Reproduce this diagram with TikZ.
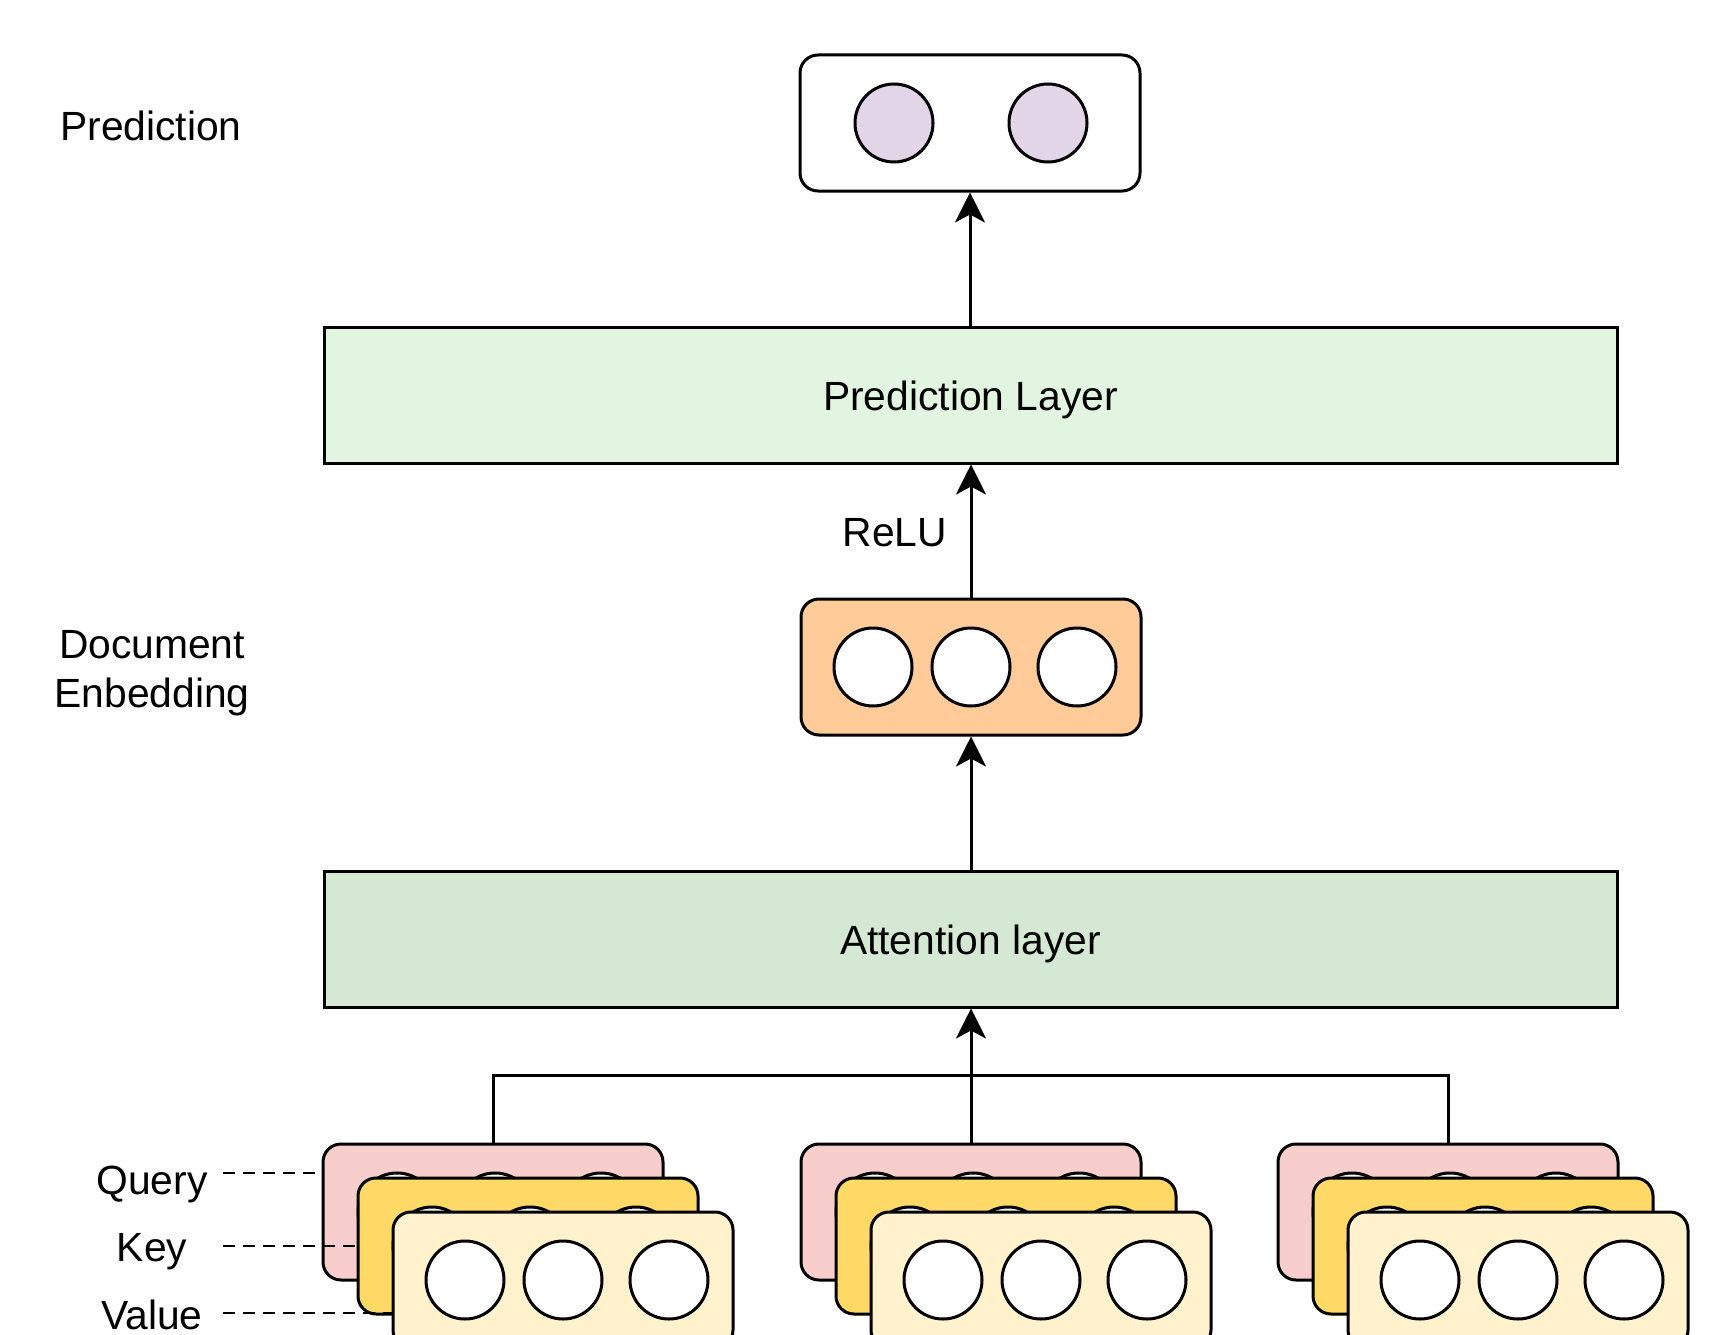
\documentclass[tikz,border=0pt]{standalone}
\usepackage{fontspec}
\setmainfont{Liberation Sans}
\usetikzlibrary{arrows.meta}
\definecolor{predcell}{HTML}{E1D5E7}
\definecolor{predlayer}{HTML}{E1F5E1}
\definecolor{attlayer}{HTML}{D5E8D4}
\definecolor{embfill}{HTML}{FFCC99}
\definecolor{qfill}{HTML}{F8CECC}
\definecolor{kfill}{HTML}{FFD966}
\definecolor{vfill}{HTML}{FFF2CC}
\begin{document}
\begin{tikzpicture}[x=1pt,y=-1pt,line width=3pt,
  rbox/.style={draw,rounded corners=18pt,minimum width=340pt,minimum height=136pt,inner sep=0pt},
  layerbox/.style={draw,rectangle,minimum width=1293pt,minimum height=136pt,inner sep=0pt},
  cell/.style={draw,circle,fill=white,minimum size=78pt,inner sep=0pt},
  lbl/.style={font=\fontsize{40.8}{49}\selectfont,align=center,inner sep=0pt},
  arr/.style={-{Stealth[length=30pt,width=30pt,inset=8pt]}},
  dashline/.style={line width=2.5pt,dash pattern=on 12pt off 8pt}]
\useasboundingbox (0,0) rectangle (1727,1335);
\clip (0,0) rectangle (1727,1335);

% left labels
\node[lbl] (lpred) at (151,126) {Prediction};
\node[lbl] (ldoc) at (152,673.5) {Document\\Enbedding};

% prediction output
\node[rbox,fill=white] (top) at (970,123) {};
\node[cell,fill=predcell] (pc1) at (894,123) {};
\node[cell,fill=predcell] (pc2) at (1048,123) {};

% prediction layer
\node[layerbox,fill=predlayer] (pl) at (970.5,395) {};
\node[lbl] (plt) at ([yshift=-5pt]pl.center) {Prediction Layer};

% document embedding
\node[rbox,fill=embfill] (emb) at (971,667) {};
\node[cell] (e1) at (873,667) {};
\node[cell] (e2) at (971,667) {};
\node[cell] (e3) at (1077,667) {};

% attention layer
\node[layerbox,fill=attlayer] (att) at (970.5,939) {};
\node[lbl] (attt) at ([yshift=-5pt]att.center) {Attention layer};

% bottom labels
\node[lbl] (lq) at (152,1184) {Query};
\node[lbl] (lk) at (152,1252) {Key};
\node[lbl] (lv) at (152,1315) {Value};
\coordinate (qs) at (223,1173);
\coordinate (ks) at (223,1246);
\coordinate (vs) at (223,1313);

% stack 1
\draw[dashline] (qs) -- (323,1173);
\node[rbox,fill=qfill] (q1) at (493,1212) {};
\foreach \i/\dx in {1/-96,2/2,3/108} \node[cell] (q1c\i) at (493+\dx,1212) {};
\draw[dashline] (ks) -- (358,1246);
\node[rbox,fill=kfill] (k1) at (528,1246) {};
\foreach \i/\dx in {1/-96,2/2,3/108} \node[cell] (k1c\i) at (528+\dx,1246) {};
\draw[dashline] (vs) -- (393,1313);
\node[rbox,fill=vfill] (v1) at (563,1280) {};
\foreach \i/\dx in {1/-98,2/0,3/106} \node[cell] (v1c\i) at (563+\dx,1280) {};

% stack 2
\node[rbox,fill=qfill] (q2) at (971,1212) {};
\foreach \i/\dx in {1/-96,2/2,3/108} \node[cell] (q2c\i) at (971+\dx,1212) {};
\node[rbox,fill=kfill] (k2) at (1006,1246) {};
\foreach \i/\dx in {1/-96,2/2,3/108} \node[cell] (k2c\i) at (1006+\dx,1246) {};
\node[rbox,fill=vfill] (v2) at (1041,1280) {};
\foreach \i/\dx in {1/-98,2/0,3/106} \node[cell] (v2c\i) at (1041+\dx,1280) {};

% stack 3
\node[rbox,fill=qfill] (q3) at (1448,1212) {};
\foreach \i/\dx in {1/-96,2/2,3/108} \node[cell] (q3c\i) at (1448+\dx,1212) {};
\node[rbox,fill=kfill] (k3) at (1483,1246) {};
\foreach \i/\dx in {1/-96,2/2,3/108} \node[cell] (k3c\i) at (1483+\dx,1246) {};
\node[rbox,fill=vfill] (v3) at (1518,1280) {};
\foreach \i/\dx in {1/-98,2/0,3/106} \node[cell] (v3c\i) at (1518+\dx,1280) {};

% connectors
\coordinate (j) at (971,1075);
\draw (q1.north) |- (j) -| (q3.north);
\draw[arr] (q2.north) -- (q2.north |- att.south);
\draw[arr] (att.north -| emb.south) -- (emb.south);
\draw[arr] (emb.north) -- (emb.north |- pl.south);
\node[lbl] (relu) at (895,533) {ReLU};
\draw[arr] (pl.north -| top.south) -- (top.south);
\end{tikzpicture}
\end{document}
